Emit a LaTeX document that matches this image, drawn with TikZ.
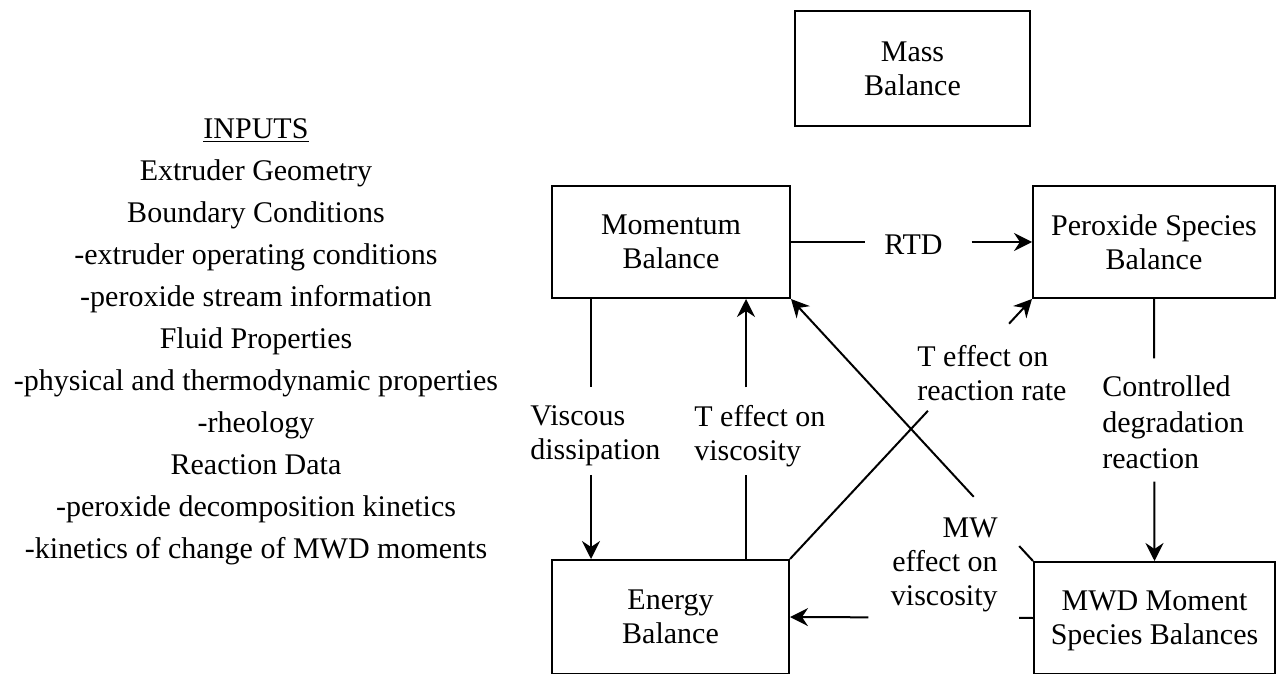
\documentclass[tikz,border=0pt]{standalone}
\usepackage{fontspec}
\setmainfont{Liberation Serif}
\usetikzlibrary{arrows.meta,calc}
\begin{document}
\begin{tikzpicture}[x=0.5pt,y=-0.5pt,
  box/.style={draw, line width=1pt, align=center, text depth=0pt, inner sep=0pt,
    font=\fontsize{15pt}{17pt}\selectfont},
  lbl/.style={inner sep=0pt, font=\fontsize{15pt}{17pt}\selectfont},
  conn/.style={line width=1pt},
  arr/.style={conn, -{Stealth[length=9pt,width=9pt,inset=3pt]}}]
\useasboundingbox (0,0) rectangle (1276,674);

% boxes
\node[box, minimum width=117.5pt, minimum height=57.5pt] (mass) at (912.5,68.5) {Mass\\Balance};
\node[box, minimum width=119pt, minimum height=56pt] (mom) at (671,242) {Momentum\\Balance};
\node[box, minimum width=121pt, minimum height=56pt] (per) at (1154,242) {Peroxide Species\\Balance};
\node[box, minimum width=118.5pt, minimum height=57pt] (en) at (670.5,617) {Energy\\Balance};
\node[box, minimum width=120.5pt, minimum height=56pt] (mwd) at (1154.5,618) {MWD Moment\\Species Balances};

% inputs list
\node[lbl, align=center, anchor=north, font=\fontsize{15pt}{21pt}\selectfont] (inputs) at (256,118)
 {\underline{INPUTS}\\Extruder Geometry\\Boundary Conditions\\-extruder operating conditions\\-peroxide stream information\\Fluid Properties\\-physical and thermodynamic properties\\-rheology\\Reaction Data\\-peroxide decomposition kinetics\\-kinetics of change of MWD moments};

% labels
\node[lbl] (rtd) at (913.5,245) {RTD};
\node[lbl, align=left, anchor=north west] (vis) at (530,405) {Viscous\\dissipation};
\node[lbl, align=left, anchor=north west] (tv) at (694,404.5) {T effect on\\viscosity};
\node[lbl, align=left, anchor=north west] (tr) at (917,344.5) {T effect on\\reaction rate};
\node[lbl, align=left, anchor=north west, font=\fontsize{15pt}{18pt}\selectfont] (ctl) at (1102,375.5) {Controlled\\degradation\\reaction};
\node[lbl, align=right, anchor=north east] (mw) at (998,517) {MW\\effect on\\viscosity};

% RTD
\path (mom.east) -- (per.west) coordinate[pos=0.309] (rtdA) coordinate[pos=0.749] (rtdB);
\draw[conn] (mom.east) -- (rtdA);
\draw[arr] (rtdB) -- (per.west);

% viscous dissipation
\coordinate (visT) at ($(mom.south west)+(40,0)$);
\coordinate (visB) at ($(en.north west)+(40,0)$);
\path (visT) -- (visB) coordinate[pos=0.34] (visA) coordinate[pos=0.676] (visC);
\draw[conn] (visT) -- (visA);
\draw[arr] (visC) -- (visB);

% T effect on viscosity
\coordinate (tvB) at ($(en.north west)+(195,0)$);
\coordinate (tvT) at ($(mom.south west)+(195,0)$);
\path (tvB) -- (tvT) coordinate[pos=0.324] (tvA) coordinate[pos=0.66] (tvC);
\draw[conn] (tvB) -- (tvA);
\draw[arr] (tvC) -- (tvT);

% controlled degradation reaction
\path (per.south) -- (mwd.north) coordinate[pos=0.227] (ctA) coordinate[pos=0.697] (ctB);
\draw[conn] (per.south) -- (ctA);
\draw[arr] (ctB) -- (mwd.north);

% T effect on reaction rate
\path (en.north east) -- (per.south west) coordinate[pos=0.57] (trA) coordinate[pos=0.905] (trB);
\draw[conn] (en.north east) -- (trA);
\draw[arr] (trB) -- (per.south west);

% MW effect on viscosity (to momentum)
\path (mwd.north west) -- (mom.south east) coordinate[pos=0.057] (mwA) coordinate[pos=0.245] (mwB);
\draw[conn] (mwd.north west) -- (mwA);
\draw[arr] (mwB) -- (mom.south east);

% MW effect on viscosity (to energy)
\path (mwd.west) -- (en.east) coordinate[pos=0.057] (hA) coordinate[pos=0.678] (hB);
\draw[conn] (mwd.west) -- (hA);
\draw[arr] (hB) -- (en.east);
\end{tikzpicture}
\end{document}
